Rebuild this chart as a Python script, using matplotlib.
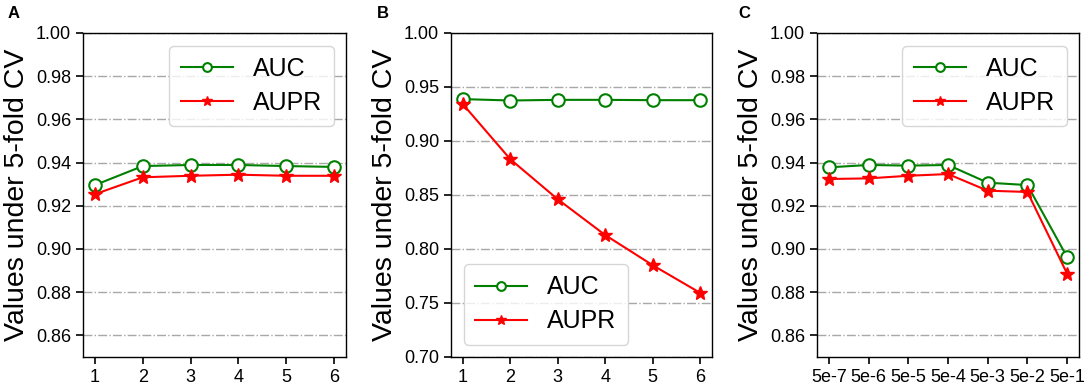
import numpy as np
import matplotlib
matplotlib.use("Agg")
import matplotlib.pyplot as plt

plt.rcParams['font.family'] = ['Liberation Sans', 'DejaVu Sans']

# panel A: x = 1..6
a_x = [1, 2, 3, 4, 5, 6]
a_auc = [0.9296, 0.9384, 0.9389, 0.9389, 0.9384, 0.9380]
a_aupr = [0.9254, 0.9332, 0.9339, 0.9344, 0.9339, 0.9339]

# panel B: x = 1..6
b_x = [1, 2, 3, 4, 5, 6]
b_auc = [0.9388, 0.9375, 0.9381, 0.9381, 0.9378, 0.9378]
b_aupr = [0.9341, 0.8831, 0.8460, 0.8129, 0.7850, 0.7594]

# panel C: categorical x
c_labels = ['5e-7', '5e-6', '5e-5', '5e-4', '5e-3', '5e-2', '5e-1']
c_auc = [0.9378, 0.9389, 0.9386, 0.9389, 0.9307, 0.9296, 0.8963]
c_aupr = [0.9324, 0.9327, 0.9339, 0.9347, 0.9270, 0.9264, 0.8886]

W, H = 1084, 392
fig = plt.figure(figsize=(W / 100, H / 100), dpi=100)


def make_ax(left_px, right_px):
    top_px, bot_px = 33, 357
    return fig.add_axes([left_px / W, 1 - bot_px / H,
                         (right_px - left_px) / W, (bot_px - top_px) / H])


def draw(ax, x, auc, aupr, ylim, yticks, legend_loc, letter, letter_px):
    ax.plot(x, auc, color='green', marker='o', markerfacecolor='white',
            markeredgecolor='green', markersize=9, markeredgewidth=1.5,
            lw=1.5, label='AUC', zorder=3)
    ax.plot(x, aupr, color='red', marker='*', markersize=10,
            lw=1.5, label='AUPR', zorder=3)
    ax.set_ylim(*ylim)
    ax.set_yticks(yticks)
    ax.set_yticklabels(['%.2f' % v for v in yticks])
    ax.yaxis.grid(True, linestyle='-.', color='#a8a8a8', lw=1.0)
    ax.set_axisbelow(True)
    ax.tick_params(labelsize=13, length=5, width=1.2)
    for s in ax.spines.values():
        s.set_linewidth(1.0)
    ax.set_ylabel('Values under 5-fold CV', fontsize=20.5, labelpad=4)
    ax.legend(loc=legend_loc, fontsize=18, markerscale=0.7,
              handlelength=2.1, borderpad=0.45, labelspacing=0.4,
              handletextpad=0.8, fancybox=True, framealpha=0.8,
              edgecolor='#cccccc')
    fig.text(letter_px / W, 1 - 13 / H, letter,
             fontsize=12, fontweight='bold', ha='left', va='center')
    return ax


ax1 = make_ax(83, 346)
draw(ax1, a_x, a_auc, a_aupr, (0.85, 1.00),
     [0.86, 0.88, 0.90, 0.92, 0.94, 0.96, 0.98, 1.00], 'upper right', 'A', 8)
ax1.set_xticks(a_x)

ax2 = make_ax(451, 712)
draw(ax2, b_x, b_auc, b_aupr, (0.70, 1.00),
     [0.70, 0.75, 0.80, 0.85, 0.90, 0.95, 1.00], 'lower left', 'B', 377)
ax2.set_xticks(b_x)

ax3 = make_ax(817, 1079)
c_x = np.arange(len(c_labels))
draw(ax3, c_x, c_auc, c_aupr, (0.85, 1.00),
     [0.86, 0.88, 0.90, 0.92, 0.94, 0.96, 0.98, 1.00], 'upper right', 'C', 738)
ax3.set_xticks(c_x)
ax3.set_xticklabels(c_labels)

fig.savefig('out.png', dpi=100)
